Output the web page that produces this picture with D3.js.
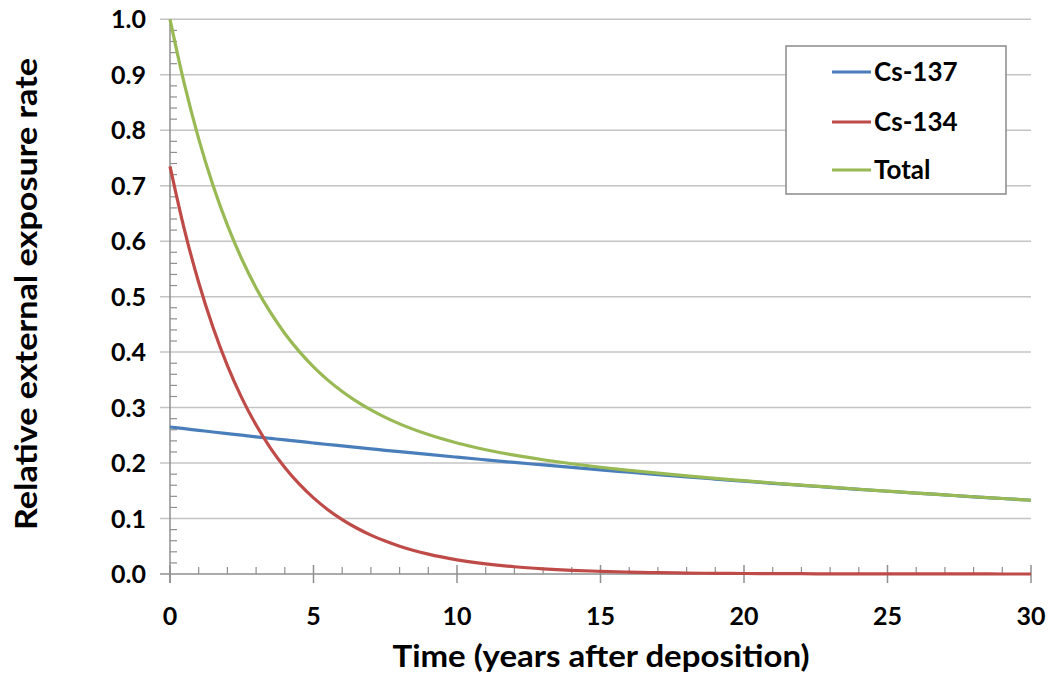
<!DOCTYPE html>
<html>
<head>
<meta charset="utf-8">
<script src="https://cdn.jsdelivr.net/npm/d3@7"></script>
<style>
  html, body { margin: 0; padding: 0; background: #fff; }
  svg { display: block; }
  text { font-family: Lato, "Open Sans", sans-serif; font-weight: bold; fill: #000; }
</style>
</head>
<body>
<svg id="chart" width="1051" height="679"></svg>
<script>
// ---- Data ----
const years = [0, 0.5, 1, 1.5, 2, 2.5, 3, 3.5, 4, 4.5, 5, 5.5, 6, 6.5, 7, 7.5, 8,
  9, 10, 11, 12, 13, 14, 15, 16, 17, 18, 19, 20, 21, 22, 23, 24, 25, 26, 27, 28, 29, 30];
const cs137 = [0.2650, 0.2620, 0.2590, 0.2560, 0.2531, 0.2502, 0.2473, 0.2445, 0.2417, 0.2390,
  0.2362, 0.2335, 0.2309, 0.2282, 0.2256, 0.2230, 0.2205,
  0.2155, 0.2106, 0.2058, 0.2011, 0.1966, 0.1921, 0.1877, 0.1835, 0.1793, 0.1752, 0.1712,
  0.1673, 0.1635, 0.1598, 0.1562, 0.1526, 0.1492, 0.1458, 0.1425, 0.1392, 0.1361, 0.1330];
const cs134 = [0.7350, 0.6214, 0.5254, 0.4443, 0.3757, 0.3176, 0.2685, 0.2270, 0.1920, 0.1623,
  0.1372, 0.1160, 0.0981, 0.0829, 0.0701, 0.0593, 0.0501,
  0.0358, 0.0256, 0.0183, 0.0131, 0.0094, 0.0067, 0.0048, 0.0034, 0.0024, 0.0017, 0.0012,
  0.0009, 0.0006, 0.0005, 0.0003, 0.0002, 0.0002, 0.0001, 0.0001, 0.0001, 0.0000, 0.0000];
const total = [1.0000, 0.8834, 0.7844, 0.7003, 0.6288, 0.5678, 0.5158, 0.4715, 0.4337, 0.4013,
  0.3734, 0.3495, 0.3290, 0.3111, 0.2957, 0.2823, 0.2706,
  0.2513, 0.2362, 0.2241, 0.2142, 0.2060, 0.1988, 0.1925, 0.1869, 0.1817, 0.1769, 0.1724,
  0.1682, 0.1641, 0.1603, 0.1565, 0.1528, 0.1494, 0.1459, 0.1426, 0.1393, 0.1361, 0.1330];
const seriesNames = ["Cs-137", "Cs-134", "Total"];
const seriesColors = ["#4a7ebb", "#be4b48", "#98b954"];
const xTicks = [0, 5, 10, 15, 20, 25, 30];
const yTicks = [0, 0.1, 0.2, 0.3, 0.4, 0.5, 0.6, 0.7, 0.8, 0.9, 1.0];
const xTitle = "Time (years after deposition)";
const yTitle = "Relative external exposure rate";

// ---- Layout ----
const svg = d3.select("#chart");
const x = d3.scaleLinear().domain([0, 30]).range([170, 1031]);
const y = d3.scaleLinear().domain([0, 1]).range([574, 19.3]);
const gridColor = "#c4c4c4";
const axisColor = "#8f8f8f";

// gridlines (with outward major tick on the left)
svg.append("g").selectAll("line").data(yTicks.filter(d => d > 0)).join("line")
  .attr("x1", x(0) - 10).attr("x2", x(30))
  .attr("y1", d => y(d)).attr("y2", d => y(d))
  .attr("stroke", gridColor).attr("stroke-width", 1.5);

// y minor ticks (inside)
const yMinor = d3.range(0, 50).map(i => i * 0.02).filter((d, i) => i % 5 !== 0);
svg.append("g").selectAll("line").data(yMinor).join("line")
  .attr("x1", x(0)).attr("x2", x(0) + 7)
  .attr("y1", d => y(d)).attr("y2", d => y(d))
  .attr("stroke", axisColor).attr("stroke-width", 1.2);

// x minor ticks (inside, above axis)
const xMinor = d3.range(1, 30).filter(d => d % 5 !== 0);
svg.append("g").selectAll("line").data(xMinor).join("line")
  .attr("x1", d => x(d)).attr("x2", d => x(d))
  .attr("y1", y(0) - 7).attr("y2", y(0))
  .attr("stroke", axisColor).attr("stroke-width", 1.2);

// x major ticks (crossing)
svg.append("g").selectAll("line").data(xTicks).join("line")
  .attr("x1", d => x(d)).attr("x2", d => x(d))
  .attr("y1", y(0) - 9).attr("y2", y(0) + 9)
  .attr("stroke", axisColor).attr("stroke-width", 1.5);

// axes lines
svg.append("line").attr("x1", x(0) - 10).attr("x2", x(30)).attr("y1", y(0)).attr("y2", y(0))
  .attr("stroke", axisColor).attr("stroke-width", 1.5);
svg.append("line").attr("x1", x(0)).attr("x2", x(0)).attr("y1", y(1)).attr("y2", y(0) + 9)
  .attr("stroke", axisColor).attr("stroke-width", 1.5);

// tick labels
svg.append("g").selectAll("text").data(yTicks).join("text")
  .attr("x", 146).attr("y", d => y(d)).attr("dy", "0.36em")
  .attr("text-anchor", "end").attr("font-size", 25)
  .text(d => d3.format(".1f")(d));
svg.append("g").selectAll("text").data(xTicks).join("text")
  .attr("x", d => x(d)).attr("y", 625)
  .attr("text-anchor", "middle").attr("font-size", 25)
  .text(d => d);

// axis titles
svg.append("text").attr("x", 601).attr("y", 667).attr("text-anchor", "middle")
  .attr("font-size", 31).attr("textLength", 417).attr("lengthAdjust", "spacingAndGlyphs")
  .text(xTitle);
svg.append("text").attr("transform", "translate(37,294) rotate(-90)")
  .attr("text-anchor", "middle").attr("font-size", 31)
  .attr("textLength", 472).attr("lengthAdjust", "spacingAndGlyphs")
  .text(yTitle);

// lines
const seriesData = [cs137, cs134, total];
const line = d3.line().x((d, i) => x(years[i])).y(d => y(d)).curve(d3.curveMonotoneX);
svg.append("g").selectAll("path").data(seriesData).join("path")
  .attr("d", d => line(d))
  .attr("fill", "none")
  .attr("stroke", (d, i) => seriesColors[i])
  .attr("stroke-width", 3.2);

// legend
const lg = svg.append("g");
lg.append("rect").attr("x", 786).attr("y", 46).attr("width", 220).attr("height", 148)
  .attr("fill", "#fff").attr("stroke", "#8a8a8a").attr("stroke-width", 1.5);
const rowsY = [72, 122, 170];
seriesNames.forEach((name, i) => {
  lg.append("line").attr("x1", 832).attr("x2", 871).attr("y1", rowsY[i]).attr("y2", rowsY[i])
    .attr("stroke", seriesColors[i]).attr("stroke-width", 3);
  lg.append("text").attr("x", 874).attr("y", rowsY[i]).attr("dy", "0.36em")
    .attr("font-size", 26).text(name);
});
</script>
</body>
</html>
